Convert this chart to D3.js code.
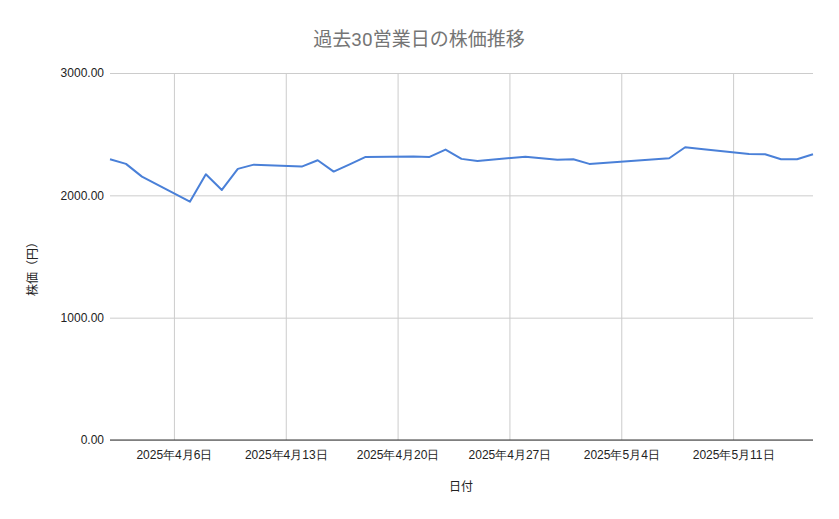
<!DOCTYPE html>
<html><head><meta charset="utf-8">
<script src="https://cdn.jsdelivr.net/npm/d3@7"></script>
<style>body{margin:0;background:#fff;font-family:Roboto,"Noto Sans CJK JP",sans-serif}</style>
</head><body><svg id="c" width="839" height="519"></svg>
<script>
const dates = ["2025-04-02","2025-04-03","2025-04-04","2025-04-07","2025-04-08","2025-04-09","2025-04-10","2025-04-11","2025-04-14","2025-04-15","2025-04-16","2025-04-17","2025-04-18","2025-04-21","2025-04-22","2025-04-23","2025-04-24","2025-04-25","2025-04-28","2025-04-30","2025-05-01","2025-05-02","2025-05-07","2025-05-08","2025-05-09","2025-05-12","2025-05-13","2025-05-14","2025-05-15","2025-05-16"];
const prices = [2295,2257,2153,1948,2172,2044,2216,2251,2235,2287,2194,2253,2314,2317,2314,2374,2298,2281,2316,2290,2295,2257,2303,2393,2378,2338,2336,2295,2295,2336];
const xTickDates = ["2025-04-06","2025-04-13","2025-04-20","2025-04-27","2025-05-04","2025-05-11"];
const yTicks = [0,1000,2000,3000];

const parse = d3.timeParse("%Y-%m-%d");
const svg = d3.select("#c");
const L=110,R=813,T=73,B=440;
const x = d3.scaleTime().domain([parse("2025-04-02"),parse("2025-05-16")]).range([L,R]);
const y = d3.scaleLinear().domain([0,3000]).range([B,T]);

svg.append("g").attr("transform",`translate(0,${B})`)
 .call(d3.axisBottom(x).tickValues(xTickDates.map(parse)).tickSize(-(B-T)).tickFormat(d=>`${d.getFullYear()}年${d.getMonth()+1}月${d.getDate()}日`))
 .call(g=>{g.select(".domain").remove();g.selectAll("line").attr("stroke","#cccccc");
   g.selectAll("text").attr("fill","#222").attr("font-size",12).attr("dy","1.3em");});
svg.append("g").attr("transform",`translate(${L},0)`)
 .call(d3.axisLeft(y).tickValues(yTicks).tickSize(-(R-L)).tickFormat(d3.format(".2f")))
 .call(g=>{g.select(".domain").remove();g.selectAll("line").attr("stroke","#cccccc");
   g.selectAll("text").attr("fill","#222").attr("font-size",12).attr("x",-6);});
svg.append("line").attr("x1",L).attr("x2",R).attr("y1",B).attr("y2",B).attr("stroke","#333");

svg.append("path").datum(dates.map((d,i)=>[parse(d),prices[i]]))
 .attr("fill","none").attr("stroke","#4a80d8").attr("stroke-width",2).attr("stroke-linejoin","round")
 .attr("d",d3.line().x(d=>x(d[0])).y(d=>y(d[1])));

svg.append("text").attr("x",419).attr("y",46).attr("text-anchor","middle").attr("fill","#757575").attr("font-size",19).text("過去30営業日の株価推移");
svg.append("text").attr("x",461).attr("y",491).attr("text-anchor","middle").attr("fill","#222").attr("font-size",12).text("日付");
svg.append("text").attr("transform","translate(37,266) rotate(-90)").attr("text-anchor","middle").attr("fill","#222").attr("font-size",12).text("株価（円）");
</script></body></html>
